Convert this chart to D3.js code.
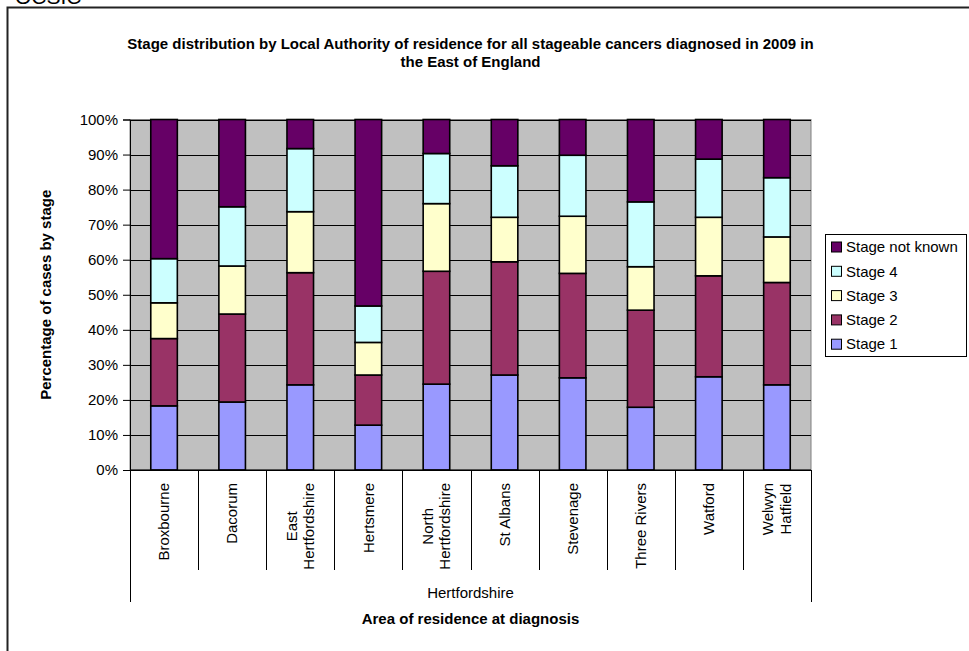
<!DOCTYPE html>
<html><head><meta charset="utf-8">
<script src="https://cdn.jsdelivr.net/npm/d3@7"></script>
<style>
html,body{margin:0;padding:0;background:#fff;}
svg{display:block;font-family:"Liberation Sans",Arial,sans-serif;}
</style></head>
<body><svg id="c" width="969" height="651"></svg>
<script>
const categories = ["Broxbourne","Dacorum","East Hertfordshire","Hertsmere","North Hertfordshire","St Albans","Stevenage","Three Rivers","Watford","Welwyn Hatfield"];
const categoryLabelLines = [["Broxbourne"],["Dacorum"],["East","Hertfordshire"],["Hertsmere"],["North","Hertfordshire"],["St Albans"],["Stevenage"],["Three Rivers"],["Watford"],["Welwyn","Hatfield"]];
const groupLabel = "Hertfordshire";
const seriesNames = ["Stage 1","Stage 2","Stage 3","Stage 4","Stage not known"];
const stage1 = [18.3,19.4,24.3,12.8,24.5,27.1,26.3,17.9,26.6,24.3];
const stage2 = [19.2,25.1,32.0,14.3,32.2,32.3,29.8,27.7,28.8,29.2];
const stage3 = [10.2,13.7,17.4,9.3,19.3,12.7,16.3,12.4,16.7,13.0];
const stage4 = [12.6,16.9,18.0,10.4,14.3,14.7,17.4,18.5,16.6,16.9];
const stageNotKnown = [39.7,24.9,8.3,53.2,9.7,13.2,10.2,23.5,11.3,16.6];
const yTicks = [0,10,20,30,40,50,60,70,80,90,100];
const colors = ["#9999FF","#993366","#FFFFCC","#CCFFFF","#660066"];
const titleLines = ["Stage distribution by Local Authority of residence for all stageable cancers diagnosed in 2009 in","the East of England"];

const svg = d3.select("#c");
const L = 130, R = 811, T = 119.5, B = 470;
const FS = 15;

// outer frame
svg.append("path").attr("d","M7.5,651V7.5H969").attr("fill","none").attr("stroke","#222").attr("stroke-width",2);
svg.append("text").attr("x",15).attr("y",3.5).attr("font-size",21).text("OCSIC");

const rows = categories.map((c,i)=>({cat:c,"Stage 1":stage1[i],"Stage 2":stage2[i],"Stage 3":stage3[i],"Stage 4":stage4[i],"Stage not known":stageNotKnown[i]}));
const stacked = d3.stack().keys(seriesNames)(rows);

const x = d3.scaleBand().domain(categories).range([L,R]).padding(0);
const y = d3.scaleLinear().domain([0,100]).range([B,T]);
const bw = x.bandwidth()*0.39;

// plot background
svg.append("rect").attr("x",L).attr("y",T).attr("width",R-L).attr("height",B-T).attr("fill","#C0C0C0").attr("stroke","#808080").attr("stroke-width",1);
// gridlines
svg.append("g").selectAll("line").data(yTicks).join("line")
  .attr("x1",L).attr("x2",R).attr("y1",d=>Math.round(y(d))+0.5).attr("y2",d=>Math.round(y(d))+0.5)
  .attr("stroke","#000").attr("stroke-width",1);

// bars
svg.append("g").selectAll("g").data(stacked).join("g")
  .attr("fill",(d,i)=>colors[i])
  .selectAll("rect").data(d=>d).join("rect")
  .attr("x",d=>x(d.data.cat)+x.bandwidth()/2-bw/2)
  .attr("width",bw)
  .attr("y",d=>y(d[1]))
  .attr("height",d=>y(d[0])-y(d[1]))
  .attr("stroke","#000").attr("stroke-width",1.6);

// y axis
const yAxis = svg.append("g").attr("transform",`translate(${L},0)`)
  .call(d3.axisLeft(y).tickValues(yTicks).tickFormat(d=>d+"%").tickSize(7).tickPadding(5));
yAxis.select(".domain").attr("stroke","#000");
yAxis.selectAll(".tick line").attr("stroke","#000");
yAxis.selectAll("text").attr("font-size",FS).attr("font-family","Liberation Sans, Arial, sans-serif").attr("fill","#000");

// x axis line
svg.append("line").attr("x1",L).attr("x2",R).attr("y1",B).attr("y2",B).attr("stroke","#000").attr("stroke-width",1.2);
// separators
const bounds = categories.map(c=>x(c)).concat([R]);
svg.append("g").selectAll("line").data(bounds).join("line")
  .attr("x1",d=>Math.round(d)+0.5).attr("x2",d=>Math.round(d)+0.5)
  .attr("y1",B).attr("y2",(d,i)=>(i===0||i===bounds.length-1)?602:570)
  .attr("stroke","#000").attr("stroke-width",1);

// category labels
const measure = svg.append("text").attr("font-size",FS).attr("visibility","hidden");
categoryLabelLines.forEach((lines,i)=>{
  let maxW = 0;
  lines.forEach(t=>{measure.text(t); maxW=Math.max(maxW,measure.node().getComputedTextLength());});
  const cx = x(categories[i])+x.bandwidth()/2;
  const cy = 483 + maxW/2;
  const lh = 17.5;
  lines.forEach((t,j)=>{
    const off = (j-(lines.length-1)/2)*lh;
    svg.append("text").attr("transform",`translate(${cx+off},${cy}) rotate(-90)`)
      .attr("text-anchor","middle").attr("dy","0.35em").attr("font-size",FS).text(t);
  });
});
measure.remove();

svg.append("text").attr("x",(L+R)/2).attr("y",597.5).attr("text-anchor","middle").attr("font-size",FS).text(groupLabel);
svg.append("text").attr("x",(L+R)/2).attr("y",624).attr("text-anchor","middle").attr("font-size",FS).attr("font-weight","bold").text("Area of residence at diagnosis");

// y title
svg.append("text").attr("transform",`translate(51,${(T+B)/2}) rotate(-90)`).attr("text-anchor","middle")
  .attr("font-size",FS).attr("font-weight","bold").text("Percentage of cases by stage");

// chart title
svg.append("g").selectAll("text").data(titleLines).join("text")
  .attr("x",(L+R)/2).attr("y",(d,i)=>49+i*17.7).attr("text-anchor","middle")
  .attr("font-size",FS).attr("font-weight","bold").text(d=>d);

// legend
const lg = svg.append("g");
lg.append("rect").attr("x",825.5).attr("y",234.5).attr("width",141).attr("height",122).attr("fill","#fff").attr("stroke","#000").attr("stroke-width",1);
const legendOrder = seriesNames.map((n,i)=>({n,c:colors[i]})).reverse();
const li = lg.selectAll("g").data(legendOrder).join("g").attr("transform",(d,i)=>`translate(0,${247+i*24.3})`);
li.append("rect").attr("x",831.5).attr("y",-5).attr("width",10).attr("height",10).attr("fill",d=>d.c).attr("stroke","#000").attr("stroke-width",1);
li.append("text").attr("x",846).attr("dy","0.35em").attr("font-size",FS).text(d=>d.n);
</script>
</body></html>
